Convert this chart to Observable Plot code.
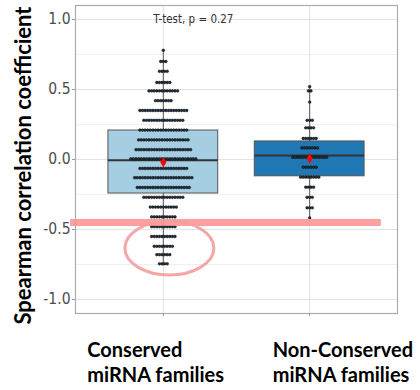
<!DOCTYPE html>
<html>
<head>
<meta charset="utf-8">
<script src="https://cdn.jsdelivr.net/npm/d3@7"></script>
<script src="https://cdn.jsdelivr.net/npm/@observablehq/plot@0.6"></script>
<style>
  html, body { margin: 0; padding: 0; background: #ffffff; }
</style>
</head>
<body>
<div id="chart"></div>
<script>
// ---------------- data ----------------
const categories = ["Conserved", "Non-Conserved"];
const categoryLabels = ["Conserved\nmiRNA families", "Non-Conserved\nmiRNA families"];

// dot-plot rows (bin centre value, number of dots in the row)
const conservedRowValues = [0.78, 0.70, 0.63, 0.55, 0.49, 0.42, 0.35, 0.28, 0.21, 0.14, 0.07, 0.005,
  -0.064, -0.13, -0.20, -0.27, -0.34, -0.41, -0.48, -0.55, -0.62, -0.68, -0.745];
const conservedRowCounts = [1, 3, 4, 6, 12, 7, 19, 16, 19, 20, 22, 26,
  19, 23, 21, 16, 11, 10, 10, 10, 8, 6, 4];
const nonConservedRowValues = [0.52, 0.49, 0.41, 0.28, 0.226, 0.15, 0.083, 0.016,
  -0.055, -0.126, -0.198, -0.27, -0.345, -0.417];
const nonConservedRowCounts = [1, 2, 1, 3, 4, 6, 7, 14, 6, 8, 4, 3, 3, 1];

// box-plot statistics per category
const q1 = [-0.243, -0.12];
const median = [-0.005, 0.029];
const q3 = [0.207, 0.129];
const whiskerLow = [-0.76, -0.43];
const whiskerHigh = [0.78, 0.52];
const means = [-0.02, 0.007];

const yTicks = [-1, -0.5, 0, 0.5, 1];
const yMinorTicks = [-0.75, -0.25, 0.25, 0.75];
const yLabel = "Spearman correlation coefficient";
const testLabel = "T-test, p = 0.27";
const thresholdValue = -0.45;

// ---------------- layout / style ----------------
const W = 420, H = 390;
const mL = 75, mR = 23, mT = 5, mB = 77;
const xDomain = [0.4, 2.6];
const yDomain = [-1.1, 1.1];
const pxPerUnit = (W - mL - mR) / (xDomain[1] - xDomain[0]);
const dotStep = 2.6 / pxPerUnit;      // horizontal spacing of stacked dots
const boxHalf = 0.375;                // half box width (x units)
const boxFills = ["#a6cee3", "#1f78b4"];
const narrow = "'Liberation Sans Narrow', 'Arial Narrow', 'DejaVu Sans Condensed', sans-serif";
const heavy = "Lato, 'Open Sans', sans-serif";

// ---------------- derived tables ----------------
const dots = [];
function addRows(ci, values, counts) {
  values.forEach((v, r) => {
    const n = counts[r];
    for (let i = 0; i < n; i++) {
      dots.push({ category: categories[ci], x: ci + 1 + (i - (n - 1) / 2) * dotStep, y: v });
    }
  });
}
addRows(0, conservedRowValues, conservedRowCounts);
addRows(1, nonConservedRowValues, nonConservedRowCounts);

const boxes = categories.map((c, i) => ({
  category: c, x: i + 1, q1: q1[i], median: median[i], q3: q3[i],
  lo: whiskerLow[i], hi: whiskerHigh[i], mean: means[i], fill: boxFills[i]
}));
const labelRows = categories.map((c, i) => ({ label: categoryLabels[i], x: i + 1 }));

// annotation ellipse (data-space centre and radii) drawn with the plot's scales
const ellipse = { cx: 1.045, cy: -0.636, rx: 0.304, ry: 0.193 };
function ellipseMark(index, scales) {
  const x = scales.x, y = scales.y;
  const cx = x(ellipse.cx), cy = y(ellipse.cy);
  const rx = Math.abs(x(ellipse.cx + ellipse.rx) - cx);
  const ry = Math.abs(y(ellipse.cy + ellipse.ry) - cy);
  const e = d3.create("svg:ellipse")
    .attr("cx", cx).attr("cy", cy).attr("rx", rx).attr("ry", ry)
    .attr("fill", "none").attr("stroke", "#f59c9c").attr("stroke-width", 3)
    .attr("stroke-opacity", 0.9);
  return e.node();
}

const chart = Plot.plot({
  width: W, height: H,
  marginLeft: mL, marginRight: mR, marginTop: mT, marginBottom: mB,
  x: { type: "linear", domain: xDomain, axis: null },
  y: { domain: yDomain, axis: null },
  style: { background: "#ffffff" },
  marks: [
    Plot.gridY(yMinorTicks, { stroke: "#f0f0f0", strokeOpacity: 1 }),
    Plot.gridY(yTicks, { stroke: "#e2e2e2", strokeOpacity: 1 }),
    Plot.gridX([1, 2], { stroke: "#e2e2e2", strokeOpacity: 1 }),
    Plot.frame({ stroke: "#ababab", strokeWidth: 1.2 }),
    Plot.axisY(yTicks, {
      tickSize: 3, tickPadding: 2, tickFormat: d => d.toFixed(1), label: null,
      fontSize: 15.5, fontFamily: narrow, fill: "#4d4d4d", stroke: "#999999"
    }),
    Plot.axisX([1, 2], { tickSize: 3, tickFormat: () => "", label: null, stroke: "#999999" }),
    // whiskers
    Plot.ruleX(boxes, { x: "x", y1: "lo", y2: "hi", stroke: "#333333", strokeWidth: 0.8 }),
    // boxes
    Plot.rect(boxes, {
      x1: d => d.x - boxHalf, x2: d => d.x + boxHalf, y1: "q1", y2: "q3",
      fill: d => d.fill, stroke: "#555555", strokeWidth: 1
    }),
    Plot.ruleY(boxes, {
      y: "median", x1: d => d.x - boxHalf, x2: d => d.x + boxHalf,
      stroke: "#333333", strokeWidth: 2
    }),
    // dots
    Plot.dot(dots, { x: "x", y: "y", r: 1.4, fill: "#24313e", stroke: "#000000", strokeWidth: 0.4 }),
    // means
    Plot.dot(boxes, { x: "x", y: "mean", symbol: "diamond", r: 3.2, fill: "#ff0000" }),
    // test annotation
    Plot.text([{ label: testLabel, x: 1, y: 1 }], {
      x: "x", y: "y", text: "label", dx: 30, fontSize: 11.5, fontFamily: narrow, fill: "#333333"
    }),
    // threshold band + ellipse
    Plot.ruleY([thresholdValue], { x1: 0.366, x2: 2.49, stroke: "#ff8f8f", strokeOpacity: 0.85, strokeWidth: 7 }),
    ellipseMark,
    // y label
    Plot.text([yLabel], {
      frameAnchor: "left", textAnchor: "middle", rotate: -90, dx: -52, dy: 6,
      fontSize: 22, fontWeight: "bold", fontFamily: heavy, fill: "#000000"
    }),
    // category labels
    Plot.text(labelRows.slice(0, 1), {
      x: "x", text: "label", frameAnchor: "bottom", textAnchor: "start", lineAnchor: "top",
      dx: -76, dy: 26, fontSize: 20, fontWeight: "bold", fontFamily: heavy, lineHeight: 1.25, fill: "#000000"
    }),
    Plot.text(labelRows.slice(1, 2), {
      x: "x", text: "label", frameAnchor: "bottom", textAnchor: "start", lineAnchor: "top",
      dx: -37, dy: 26, fontSize: 20, fontWeight: "bold", fontFamily: heavy, lineHeight: 1.25, fill: "#000000"
    })
  ]
});
document.getElementById("chart").appendChild(chart);
</script>
</body>
</html>
